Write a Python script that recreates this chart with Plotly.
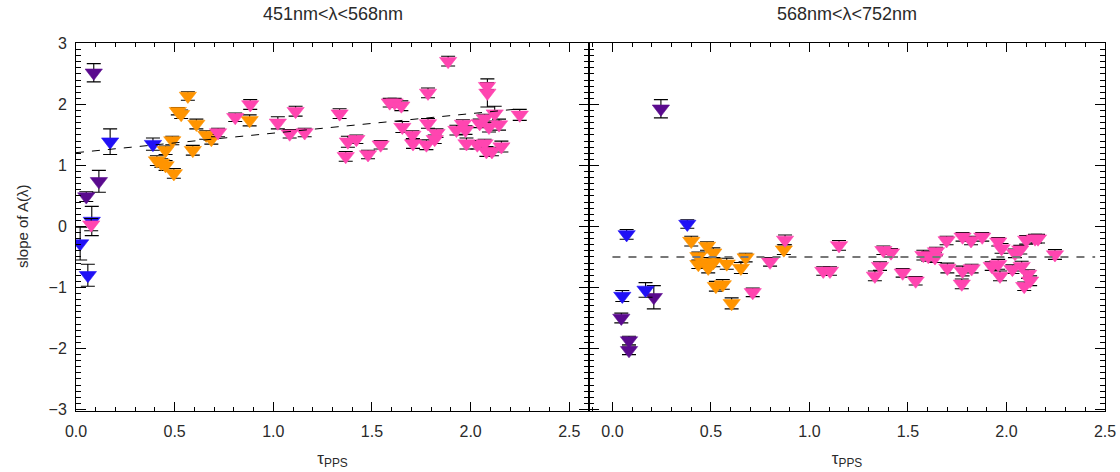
import plotly.graph_objects as go

# ---------------- data ----------------
# Left panel: 451nm<λ<568nm
L_purple_x = [0.090, 0.116, 0.052]
L_purple_y = [2.52, 0.74, 0.49]
L_purple_e = [0.15, 0.18, 0.08]

L_blue_x = [0.173, 0.39, 0.08, 0.021, 0.06]
L_blue_y = [1.39, 1.35, 0.09, -0.28, -0.80]
L_blue_e = [0.21, 0.10, 0.24, 0.27, 0.18]

L_orange_x = [0.567, 0.516, 0.533, 0.61, 0.66, 0.686, 0.488, 0.454, 0.592, 0.41, 0.432, 0.454, 0.496, 0.88]
L_orange_y = [2.14, 1.89, 1.84, 1.68, 1.50, 1.43, 1.41, 1.25, 1.25, 1.08, 1.04, 1.00, 0.87, 1.74]
L_orange_e = [0.07, 0.06, 0.07, 0.08, 0.07, 0.08, 0.07, 0.07, 0.08, 0.08, 0.07, 0.08, 0.08, 0.09]

L_pink_x = [0.077, 0.72, 0.807, 0.883, 1.023, 1.083, 1.113, 1.159, 1.336, 1.378, 1.421, 1.367,
            1.48, 1.544, 1.59, 1.615, 1.649, 1.654, 1.705, 1.708, 1.784, 1.784, 1.776, 1.827,
            1.818, 1.886, 1.928, 1.961, 1.974, 1.979, 2.034, 2.046, 2.071, 2.083, 2.085, 2.122,
            2.093, 2.144, 2.071, 2.08, 2.108, 2.156, 2.249]
L_pink_y = [0.03, 1.54, 1.79, 2.00, 1.70, 1.52, 1.89, 1.54, 1.85, 1.39, 1.43, 1.15,
            1.18, 1.34, 2.03, 2.03, 1.98, 1.63, 1.50, 1.36, 2.19, 1.69, 1.34, 1.53,
            1.43, 2.71, 1.58, 1.68, 1.58, 1.36, 1.34, 1.69, 1.77, 2.30, 2.19, 1.85,
            1.63, 1.67, 1.36, 1.23, 1.23, 1.31, 1.83]
L_pink_e = [0.10, 0.07, 0.07, 0.08, 0.10, 0.07, 0.08, 0.07, 0.08, 0.09, 0.07, 0.08,
            0.07, 0.07, 0.07, 0.07, 0.08, 0.09, 0.07, 0.08, 0.08, 0.08, 0.08, 0.07,
            0.07, 0.08, 0.08, 0.07, 0.07, 0.09, 0.07, 0.07, 0.07, 0.06, 0.23, 0.12,
            0.08, 0.09, 0.07, 0.08, 0.07, 0.09, 0.09]

L_fit_x = [0.0, 2.25]
L_fit_y = [1.21, 1.93]

# Right panel: 568nm<λ<752nm
R_purple_x = [0.246, 0.21, 0.045, 0.084, 0.084]
R_purple_y = [1.93, -1.16, -1.50, -1.87, -2.03]
R_purple_e = [0.15, 0.19, 0.08, 0.07, 0.07]

R_blue_x = [0.072, 0.38, 0.05, 0.168]
R_blue_y = [-0.13, 0.04, -1.14, -1.04]
R_blue_e = [0.08, 0.07, 0.09, 0.12]

R_orange_x = [0.40, 0.48, 0.436, 0.512, 0.436, 0.486, 0.512, 0.486, 0.58, 0.652, 0.676, 0.525, 0.56, 0.605, 0.87]
R_orange_y = [-0.24, -0.32, -0.49, -0.43, -0.62, -0.59, -0.59, -0.68, -0.61, -0.68, -0.51, -0.98, -0.95, -1.26, -0.38]
R_orange_e = [0.08, 0.07, 0.07, 0.08, 0.07, 0.08, 0.07, 0.08, 0.09, 0.09, 0.07, 0.08, 0.08, 0.09, 0.08]

R_pink_x = [0.80, 0.876, 0.712, 1.07, 1.104, 1.15, 1.375, 1.414, 1.358, 1.332, 1.473, 1.539,
            1.578, 1.603, 1.642, 1.637, 1.696, 1.70, 1.777, 1.82, 1.877, 1.777, 1.773, 1.823,
            1.958, 1.975, 1.925, 1.958, 1.967, 2.03, 2.043, 2.07, 2.077, 2.11, 2.12, 2.09,
            2.10, 2.145, 2.16, 2.246]
R_pink_y = [-0.58, -0.22, -1.08, -0.73, -0.73, -0.31, -0.39, -0.43, -0.65, -0.81, -0.76, -0.89,
            -0.47, -0.49, -0.41, -0.51, -0.23, -0.68, -0.17, -0.23, -0.17, -0.73, -0.94, -0.69,
            -0.25, -0.36, -0.65, -0.62, -0.81, -0.70, -0.44, -0.38, -0.65, -0.78, -0.89, -0.98,
            -0.22, -0.20, -0.20, -0.46]
R_pink_e = [0.07, 0.08, 0.07, 0.07, 0.07, 0.08, 0.07, 0.07, 0.07, 0.08, 0.07, 0.07,
            0.08, 0.08, 0.07, 0.08, 0.07, 0.08, 0.07, 0.07, 0.07, 0.08, 0.08, 0.07,
            0.07, 0.08, 0.07, 0.08, 0.08, 0.07, 0.07, 0.07, 0.08, 0.07, 0.08, 0.07,
            0.07, 0.07, 0.07, 0.08]

R_fit_x = [0.0, 2.45]
R_fit_y = [-0.5, -0.5]

titles = ["451nm&lt;λ&lt;568nm", "568nm&lt;λ&lt;752nm"]
y_title = "slope of A(λ)"
x_title = "τ<sub>PPS</sub>"

# ---------------- styling ----------------
PURPLE = "#5a0a8e"
BLUE = "#2010f5"
ORANGE = "#ff9400"
PINK = "#ff45b0"

W, H = 1120, 472
ML, MR, MT, MB = 76, 15, 43, 61

fig = go.Figure()


def add_group(xs, ys, es, color, xa, ya):
    fig.add_trace(go.Scatter(
        x=xs, y=ys, mode="markers", xaxis=xa, yaxis=ya, showlegend=False,
        hoverinfo="skip",
        marker=dict(symbol="triangle-down", size=15, color=color,
                    line=dict(width=0.6, color=color)),
        error_y=dict(type="data", array=es, visible=True, color="black",
                     thickness=1.1, width=7),
    ))


for xa, ya, fx, fy, lc, lw, groups in [
    ("x", "y", L_fit_x, L_fit_y, "black", 1.0,
     [(L_purple_x, L_purple_y, L_purple_e, PURPLE),
      (L_blue_x, L_blue_y, L_blue_e, BLUE),
      (L_orange_x, L_orange_y, L_orange_e, ORANGE),
      (L_pink_x, L_pink_y, L_pink_e, PINK)]),
    ("x2", "y2", R_fit_x, R_fit_y, "#777777", 2.0,
     [(R_purple_x, R_purple_y, R_purple_e, PURPLE),
      (R_blue_x, R_blue_y, R_blue_e, BLUE),
      (R_orange_x, R_orange_y, R_orange_e, ORANGE),
      (R_pink_x, R_pink_y, R_pink_e, PINK)]),
]:
    for g in groups:
        add_group(*g, xa, ya)
    fig.add_trace(go.Scatter(x=fx, y=fy, mode="lines", xaxis=xa, yaxis=ya,
                             showlegend=False, hoverinfo="skip",
                             line=dict(color=lc, width=lw, dash="8px,8px")))

FONT = "Liberation Sans, DejaVu Sans, sans-serif"
TXT = "#2a2a2a"
tickfont = dict(family=FONT, size=16, color=TXT)

common_x = dict(showline=True, linecolor="black", linewidth=1, mirror="ticks",
                ticks="inside", ticklen=9, tickcolor="black", tickwidth=1,
                dtick=0.5, tick0=0, tickformat=".1f", showgrid=False, zeroline=False,
                tickfont=tickfont, automargin=False, ticklabelstandoff=6,
                minor=dict(dtick=0.1, ticks="inside", ticklen=4, tickcolor="black",
                           showgrid=False),
                title=dict(text=x_title, standoff=12,
                           font=dict(family=FONT, size=17, color=TXT)))
common_y = dict(showline=True, linecolor="black", linewidth=1, mirror="ticks",
                ticks="inside", ticklen=10, tickcolor="black", tickwidth=1,
                dtick=1, tick0=0, range=[-3.025, 3.008], showgrid=False, zeroline=False,
                tickfont=tickfont, automargin=False, ticklabelstandoff=5,
                minor=dict(dtick=0.1, ticks="inside", ticklen=5, tickcolor="black",
                           showgrid=False))

pw = W - ML - MR
split = (589 - ML) / pw

fig.update_layout(
    template="none",
    width=W, height=H,
    margin=dict(l=ML, r=MR, t=MT, b=MB, autoexpand=False),
    paper_bgcolor="white", plot_bgcolor="white",
    hovermode=False,
    xaxis=dict(domain=[0, split], range=[0, 2.6], anchor="y", **common_x),
    xaxis2=dict(domain=[split, 1], range=[-0.119, 2.5], anchor="y2", **common_x),
    yaxis=dict(domain=[0, 1], anchor="x", **common_y),
    yaxis2=dict(domain=[0, 1], anchor="x2", showticklabels=False, **common_y),
)

fig.add_annotation(text=y_title, x=(22 - ML) / pw, y=0.5, xref="paper", yref="paper",
                   xanchor="center", yanchor="middle", textangle=-90, showarrow=False,
                   font=dict(family=FONT, size=15, color=TXT))
fig.add_annotation(text=titles[0], x=(0 + split) / 2, y=1, xref="paper", yref="paper",
                   xanchor="center", yanchor="middle", yshift=29, showarrow=False,
                   font=dict(family=FONT, size=18, color=TXT))
fig.add_annotation(text=titles[1], x=(split + 1) / 2, y=1, xref="paper", yref="paper",
                   xanchor="center", yanchor="middle", yshift=29, showarrow=False,
                   font=dict(family=FONT, size=18, color=TXT))

fig.write_html("out.html", config={"displayModeBar": False, "staticPlot": True},
               post_script="document.body.style.margin='0px';document.body.style.overflow='hidden';")
